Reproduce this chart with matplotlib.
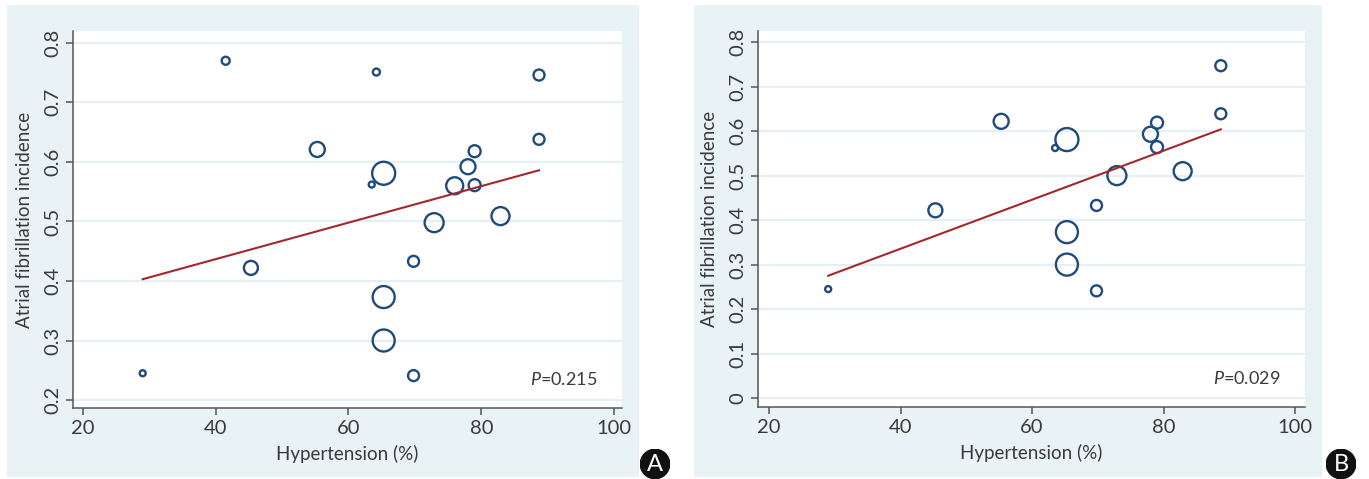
import numpy as np
import matplotlib
matplotlib.use("Agg")
from matplotlib import pyplot as plt
from matplotlib.patches import Circle

plt.rcParams['font.family'] = ['Lato', 'DejaVu Sans']
plt.rcParams['mathtext.fontset'] = 'custom'
plt.rcParams['mathtext.it'] = 'Lato:italic'
plt.rcParams['mathtext.rm'] = 'Lato'

# panel A data: hypertension %, AF incidence, study weight
htn_a = [29.0, 41.5, 45.3, 55.3, 63.5, 64.2, 65.3, 65.3, 65.3, 69.8, 69.8,
         72.9, 76.0, 78.0, 79.0, 79.0, 82.9, 88.7, 88.7]
af_a = [0.245, 0.770, 0.422, 0.621, 0.562, 0.751, 0.581, 0.373, 0.300, 0.433, 0.241,
        0.498, 0.560, 0.592, 0.618, 0.561, 0.509, 0.746, 0.638]
wt_a = [36, 64, 196, 225, 36, 49, 529, 484, 484, 121, 121,
        361, 289, 225, 144, 144, 324, 121, 121]
fit_a = [0.403, 0.586]   # fitted line at x=29 and x=88.7

# panel B data
htn_b = [29.0, 45.3, 55.3, 63.5, 65.3, 65.3, 65.3, 69.8, 69.8,
         72.9, 78.0, 79.0, 79.0, 82.9, 88.7, 88.7]
af_b = [0.245, 0.422, 0.622, 0.562, 0.581, 0.373, 0.300, 0.433, 0.241,
        0.500, 0.593, 0.619, 0.564, 0.510, 0.747, 0.639]
wt_b = [36, 196, 225, 36, 529, 484, 484, 121, 121,
        361, 225, 144, 144, 324, 121, 121]
fit_b = [0.275, 0.604]
fit_x = [29.0, 88.7]

W, H = 1369, 479
fig = plt.figure(figsize=(W / 100, H / 100), dpi=100)

bg = '#e9f2f5'
edge = '#1f4a7c'
red = '#a3282c'
axcol = '#555555'
txt = '#3a3a3a'


def px(x0, y0, x1, y1):
    # pixel box (top-left origin) -> figure fraction rect
    return [x0 / W, 1 - y1 / H, (x1 - x0) / W, (y1 - y0) / H]


def panel(bgbox, axbox, xs, ys, ws, fit, xlim, ylim, yticks, ptxt, letter, lpos):
    back = fig.add_axes(px(*bgbox), zorder=-5)
    back.set_facecolor(bg)
    back.set_xticks([])
    back.set_yticks([])
    for s in back.spines.values():
        s.set_visible(False)

    ax = fig.add_axes(px(*axbox), zorder=1)
    ax.set_facecolor('white')
    ax.set_xlim(*xlim)
    ax.set_ylim(*ylim)
    ax.set_xticks([20, 40, 60, 80, 100])
    ax.set_yticks(yticks)
    ax.set_yticklabels(['0' if t == 0 else '%.1f' % t for t in yticks],
                       rotation=90, va='center')
    for t in yticks:
        ax.axhline(t, color='#e6f0f4', lw=1.6, zorder=1)
    for s in ['top', 'right']:
        ax.spines[s].set_visible(False)
    for s in ['left', 'bottom']:
        ax.spines[s].set_color(axcol)
        ax.spines[s].set_linewidth(1.1)
    ax.tick_params(colors=axcol, labelcolor=txt, labelsize=14.5, length=5,
                   width=1.1, direction='out')
    ax.scatter(xs, ys, s=np.array(ws) * 0.72 ** 2, facecolors='none',
               edgecolors=edge, linewidths=1.7, zorder=3)
    ax.plot(fit_x, fit, color=red, lw=1.5, zorder=4)
    ax.set_xlabel('Hypertension (%)', fontsize=13.5, color=txt, labelpad=6)
    ax.set_ylabel('Atrial fibrillation incidence', fontsize=13.5, color=txt,
                  labelpad=8)
    ax.text(0.955, 0.075, ptxt, transform=ax.transAxes, ha='right', va='center',
            fontsize=13, color=txt)

    cax = fig.add_axes(px(lpos[0] - 15, lpos[1] - 15, lpos[0] + 15, lpos[1] + 15),
                       zorder=2)
    cax.set_xlim(-1, 1)
    cax.set_ylim(-1, 1)
    cax.set_aspect('equal')
    cax.axis('off')
    cax.add_patch(Circle((0, 0), 0.98, color='#111111'))
    cax.text(0, -0.04, letter, color='white', ha='center', va='center',
             fontsize=17)
    return ax


panel((7, 5, 639, 477), (73, 31, 622, 408), htn_a, af_a, wt_a, fit_a,
      (18.5, 101.2), (0.1866, 0.82), [0.2, 0.3, 0.4, 0.5, 0.6, 0.7, 0.8],
      '$P$=0.215', 'A', (655, 464))
panel((694, 5, 1322, 477), (758, 31, 1305, 407), htn_b, af_b, wt_b, fit_b,
      (18.33, 101.5), (-0.02, 0.825), [0, 0.1, 0.2, 0.3, 0.4, 0.5, 0.6, 0.7, 0.8],
      '$P$=0.029', 'B', (1341, 464))

fig.savefig('out.png', dpi=100)
